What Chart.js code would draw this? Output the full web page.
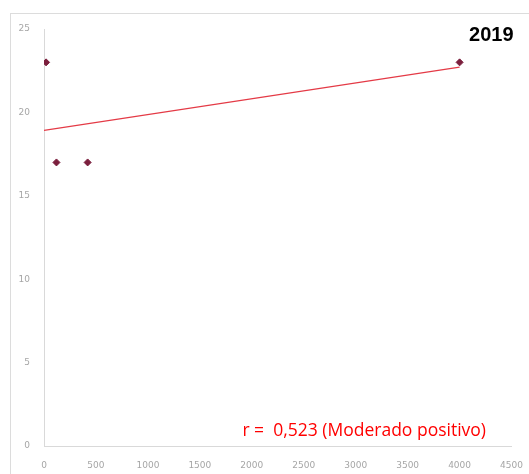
<!DOCTYPE html>
<html lang="pt">
<head>
<meta charset="UTF-8">
<title>2019</title>
<script src="https://cdn.jsdelivr.net/npm/chart.js"></script>
<style>
  html, body { margin: 0; padding: 0; background: #fff; }
  #wrap { width: 529px; height: 474px; }
</style>
</head>
<body>
<div id="wrap"><canvas id="scatterChart" width="529" height="474"></canvas></div>
<script>
// observed pairs
const xValues = [20, 120, 420, 4000]
const yValues = [23, 17, 17, 23]

// linear trend endpoints
const trendX = [0, 4000]
const trendY = [18.92, 22.71]

const xTicks = [0, 500, 1000, 1500, 2000, 2500, 3000, 3500, 4000, 4500]
const yTicks = [0, 5, 10, 15, 20, 25]

const titleText = "2019"
const noteText = "r =  0,523 (Moderado positivo)"

const points = xValues.map((x, i) => ({ x: x, y: yValues[i] }))
const trend = trendX.map((x, i) => ({ x: x, y: trendY[i] }))

// frame, title and correlation note
const decorations = {
  id: "decorations",
  beforeDraw(chart) {
    const ctx = chart.ctx
    ctx.save()
    ctx.fillStyle = "#fff"
    ctx.fillRect(0, 0, chart.width, chart.height)
    ctx.strokeStyle = "#dcdcdc"
    ctx.lineWidth = 1
    ctx.strokeRect(10.5, 13.5, 600, 600)
    ctx.restore()
  },
  afterDraw(chart) {
    const ctx = chart.ctx
    const area = chart.chartArea
    ctx.save()
    ctx.textAlign = "right"
    ctx.textBaseline = "alphabetic"
    ctx.fillStyle = "#000"
    ctx.font = "bold 20px 'Liberation Sans', Arial, sans-serif"
    ctx.fillText(titleText, area.right + 2, 41)
    ctx.fillStyle = "#ff0000"
    ctx.font = "17.5px 'Open Sans', 'Liberation Sans', sans-serif"
    ctx.fillText(noteText, 486, 436)
    ctx.restore()
  }
}

const tickFont = { family: "'DejaVu Sans', sans-serif", size: 9 }

new Chart(document.getElementById("scatterChart"), {
  type: "scatter",
  data: {
    datasets: [
      {
        data: trend,
        showLine: true,
        borderColor: "#e43a46",
        borderWidth: 1.2,
        pointRadius: 0,
        fill: false
      },
      {
        data: points,
        pointStyle: "rectRot",
        pointRadius: 3.5,
        backgroundColor: "#7b1f3d",
        borderColor: "#7b1f3d"
      }
    ]
  },
  options: {
    responsive: false,
    animation: false,
    layout: { padding: { left: 10, top: 29, right: 16, bottom: 0 } },
    plugins: {
      legend: { display: false },
      tooltip: { enabled: false }
    },
    scales: {
      x: {
        type: "linear",
        min: 0,
        max: 4500,
        afterBuildTicks: (scale) => { scale.ticks = xTicks.map((v) => ({ value: v })) },
        afterFit: (scale) => { scale.height = 28 },
        grid: { display: false },
        border: { display: true, color: "#d9d9d9" },
        ticks: { color: "#a6a6a6", font: tickFont, maxRotation: 0, padding: 6, callback: (v) => String(v) }
      },
      y: {
        type: "linear",
        min: 0,
        max: 25,
        afterBuildTicks: (scale) => { scale.ticks = yTicks.map((v) => ({ value: v })) },
        afterFit: (scale) => { scale.width = 34 },
        grid: { display: false },
        border: { display: true, color: "#d9d9d9" },
        ticks: { color: "#a6a6a6", font: tickFont, padding: 6, callback: (v) => String(v) }
      }
    }
  },
  plugins: [decorations]
})
</script>
</body>
</html>
